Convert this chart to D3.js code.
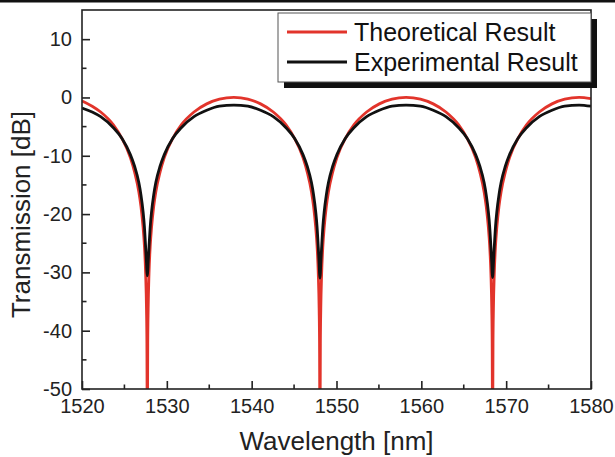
<!DOCTYPE html>
<html>
<head>
<meta charset="utf-8">
<script src="https://cdn.jsdelivr.net/npm/d3@7"></script>
<style>
  body { margin: 0; background: #fff; }
  svg { display: block; font-family: "Liberation Sans", Arial, sans-serif; }
</style>
</head>
<body>
<svg></svg>
<script>
// wavelength samples (nm), shared by both series
var wavelength = [
  1520.0, 1521.2, 1522.2, 1523.7, 1524.7, 1525.7, 1526.2, 1526.7, 1526.95, 1527.2, 1527.35, 1527.5, 1527.6, 1527.65, 1527.7,
  1527.75, 1527.8, 1527.9, 1528.05, 1528.2, 1528.45, 1528.7, 1529.2, 1529.7, 1530.7, 1531.7, 1533.2, 1534.7, 1536.2, 1537.9,
  1539.55, 1541.05, 1542.55, 1544.05, 1545.05, 1546.05, 1546.55, 1547.05, 1547.3, 1547.55, 1547.7, 1547.85, 1547.95, 1548.0, 1548.05,
  1548.1, 1548.15, 1548.25, 1548.4, 1548.55, 1548.8, 1549.05, 1549.55, 1550.05, 1551.05, 1552.05, 1553.55, 1555.05, 1556.55, 1558.2,
  1559.9, 1561.4, 1562.9, 1564.4, 1565.4, 1566.4, 1566.9, 1567.4, 1567.65, 1567.9, 1568.05, 1568.2, 1568.3, 1568.35, 1568.4,
  1568.45, 1568.5, 1568.6, 1568.75, 1568.9, 1569.15, 1569.4, 1569.9, 1570.4, 1571.4, 1572.4, 1573.9, 1575.4, 1576.9, 1578.6, 1580.0
];

var theoretical = [
  -0.6, -1.5, -2.5, -4.7, -7.0, -10.3, -12.8, -16.2, -18.7, -22.3, -25.3, -30.2, -36.2, -42.2, -60,
  -42.2, -36.2, -30.2, -25.3, -22.3, -18.7, -16.2, -12.8, -10.3, -7.0, -4.7, -2.5, -1.1, -0.3, 0.0,
  -0.3, -1.1, -2.5, -4.7, -7.0, -10.3, -12.8, -16.2, -18.7, -22.3, -25.3, -30.2, -36.2, -42.2, -60,
  -42.2, -36.2, -30.2, -25.3, -22.3, -18.7, -16.2, -12.8, -10.3, -7.0, -4.7, -2.5, -1.1, -0.3, 0.0,
  -0.3, -1.1, -2.5, -4.7, -7.0, -10.3, -12.8, -16.2, -18.7, -22.3, -25.3, -30.2, -36.2, -42.2, -60,
  -42.2, -36.2, -30.2, -25.3, -22.3, -18.7, -16.2, -12.8, -10.3, -7.0, -4.7, -2.5, -1.1, -0.3, 0.0, -0.2
];

var experimental = [
  -1.8, -2.5, -3.3, -5.2, -7.0, -9.8, -11.8, -14.6, -16.7, -19.6, -22.0, -25.6, -28.3, -29.8, -30.6,
  -29.8, -28.3, -25.6, -22.0, -19.6, -16.7, -14.6, -11.8, -9.8, -7.0, -5.2, -3.3, -2.2, -1.5, -1.3,
  -1.5, -2.2, -3.3, -5.2, -7.0, -9.8, -11.8, -14.6, -16.7, -19.6, -22.0, -25.6, -28.4, -30.1, -31.0,
  -30.1, -28.4, -25.6, -22.0, -19.6, -16.7, -14.6, -11.8, -9.8, -7.0, -5.2, -3.3, -2.2, -1.5, -1.3,
  -1.5, -2.2, -3.3, -5.2, -7.0, -9.8, -11.8, -14.6, -16.7, -19.6, -22.0, -25.6, -28.4, -30.1, -30.9,
  -30.1, -28.4, -25.6, -22.0, -19.6, -16.7, -14.6, -11.8, -9.8, -7.0, -5.2, -3.3, -2.2, -1.5, -1.3, -1.5
];

var seriesNames = ["Theoretical Result", "Experimental Result"];
var seriesColors = ["#e2342b", "#111111"];

var xTicks = [1520, 1530, 1540, 1550, 1560, 1570, 1580];
var xMinorTicks = [1525, 1535, 1545, 1555, 1565, 1575];
var yTicks = [-50, -40, -30, -20, -10, 0, 10];
var yMinorTicks = [-45, -35, -25, -15, -5, 5];

var viewWidth = 615, viewHeight = 457;
var margin = {top: 10, right: 24, bottom: 68, left: 82};
var width = viewWidth - margin.left - margin.right;
var height = viewHeight - margin.top - margin.bottom;

var root = d3.select("svg")
    .attr("width", viewWidth)
    .attr("height", viewHeight);

// thin rule across the very top of the figure
root.append("line")
    .attr("x1", 0).attr("x2", viewWidth)
    .attr("y1", 1.2).attr("y2", 1.2)
    .attr("stroke", "#111")
    .attr("stroke-width", 2.4);

var svg = root.append("g")
    .attr("transform", "translate(" + margin.left + "," + margin.top + ")");

var x = d3.scaleLinear().domain([1520, 1580]).range([0, width]);
var y = d3.scaleLinear().domain([-50, 15]).range([height, 0]);

svg.append("defs").append("clipPath")
    .attr("id", "clip")
    .append("rect")
    .attr("width", width)
    .attr("height", height);

var line = d3.line()
    .x(function(d) { return x(d[0]); })
    .y(function(d) { return y(d[1]); })
    .curve(d3.curveMonotoneX);

var plot = svg.append("g").attr("clip-path", "url(#clip)");
[theoretical, experimental].forEach(function(vals, i) {
    plot.append("path")
        .datum(wavelength.map(function(w, j) { return [w, vals[j]]; }))
        .attr("fill", "none")
        .attr("stroke", seriesColors[i])
        .attr("stroke-width", 2.8)
        .attr("stroke-linejoin", "round")
        .attr("d", line);
});

// frame
svg.append("rect")
    .attr("width", width)
    .attr("height", height)
    .attr("fill", "none")
    .attr("stroke", "#222")
    .attr("stroke-width", 1.6);

// plain hyphen for negatives, like the original
var fmt = function(d) { return String(d); };

// bottom axis, ticks pointing inward
var xAxis = svg.append("g")
    .attr("transform", "translate(0," + height + ")")
    .call(d3.axisBottom(x).tickValues(xTicks).tickSize(-8).tickPadding(10).tickFormat(fmt));
xAxis.append("g").selectAll("line")
    .data(xMinorTicks).enter().append("line")
    .attr("x1", function(d) { return x(d); })
    .attr("x2", function(d) { return x(d); })
    .attr("y1", 0).attr("y2", -4.5);

var yAxis = svg.append("g")
    .call(d3.axisLeft(y).tickValues(yTicks).tickSize(-8).tickPadding(10).tickFormat(fmt));
yAxis.append("g").selectAll("line")
    .data(yMinorTicks).enter().append("line")
    .attr("y1", function(d) { return y(d); })
    .attr("y2", function(d) { return y(d); })
    .attr("x1", 0).attr("x2", 4.5);

[xAxis, yAxis].forEach(function(a) {
    a.select(".domain").remove();
    a.selectAll("line").attr("stroke", "#222").attr("stroke-width", 1.6);
    a.selectAll("text").attr("fill", "#222").style("font-size", "20px");
});

svg.append("text")
    .attr("x", width / 2)
    .attr("y", height + 61)
    .attr("text-anchor", "middle")
    .attr("fill", "#222")
    .style("font-size", "26px")
    .text("Wavelength [nm]");

svg.append("text")
    .attr("transform", "rotate(-90)")
    .attr("x", -(height / 2) - 15)
    .attr("y", -margin.left + 30)
    .attr("text-anchor", "middle")
    .attr("fill", "#222")
    .style("font-size", "26px")
    .text("Transmission [dB]");

// legend with drop shadow
var legend = svg.append("g").attr("transform", "translate(196,3)");
legend.append("rect")
    .attr("x", 6).attr("y", 6)
    .attr("width", 313).attr("height", 69)
    .attr("fill", "#111");
legend.append("rect")
    .attr("width", 313).attr("height", 69)
    .attr("fill", "#fff")
    .attr("stroke", "#555")
    .attr("stroke-width", 1);

var rowY = [19, 49];
legend.selectAll("line.key")
    .data(seriesNames).enter().append("line")
    .attr("class", "key")
    .attr("x1", 9).attr("x2", 69)
    .attr("y1", function(d, i) { return rowY[i]; })
    .attr("y2", function(d, i) { return rowY[i]; })
    .attr("stroke", function(d, i) { return seriesColors[i]; })
    .attr("stroke-width", 2.8);
legend.selectAll("text")
    .data(seriesNames).enter().append("text")
    .attr("x", 76)
    .attr("y", function(d, i) { return rowY[i] + 8.5; })
    .attr("fill", "#111")
    .style("font-size", "25px")
    .text(function(d) { return d; });
</script>
</body>
</html>
